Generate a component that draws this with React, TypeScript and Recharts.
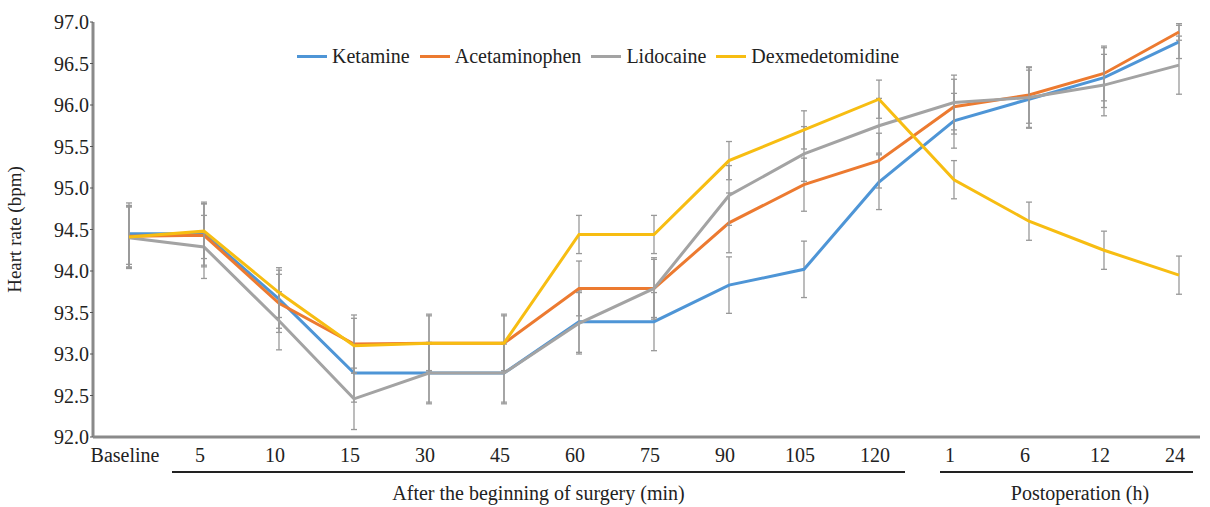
import { LineChart, Line, XAxis, YAxis, ErrorBar } from "recharts"

const categories = ["Baseline", "5", "10", "15", "30", "45", "60", "75", "90", "105", "120", "1", "6", "12", "24"]

const ketamine = [94.45, 94.45, 93.66, 92.77, 92.77, 92.77, 93.39, 93.39, 93.83, 94.02, 95.07, 95.81, 96.07, 96.33, 96.76]
const acetaminophen = [94.42, 94.43, 93.61, 93.12, 93.13, 93.13, 93.79, 93.79, 94.58, 95.04, 95.33, 95.98, 96.12, 96.38, 96.88]
const lidocaine = [94.4, 94.29, 93.4, 92.46, 92.77, 92.77, 93.37, 93.79, 94.91, 95.41, 95.75, 96.03, 96.09, 96.24, 96.48]
const dexmedetomidine = [94.41, 94.48, 93.74, 93.1, 93.13, 93.13, 94.44, 94.44, 95.33, 95.7, 96.07, 95.1, 94.6, 94.25, 93.95]

const ketamineErr = [0.37, 0.38, 0.35, 0.35, 0.35, 0.35, 0.37, 0.35, 0.34, 0.34, 0.33, 0.33, 0.35, 0.36, 0.2]
const acetaminophenErr = [0.37, 0.38, 0.35, 0.35, 0.35, 0.35, 0.33, 0.35, 0.36, 0.32, 0.33, 0.33, 0.34, 0.33, 0.1]
const lidocaineErr = [0.37, 0.38, 0.35, 0.37, 0.37, 0.37, 0.37, 0.37, 0.36, 0.33, 0.33, 0.33, 0.36, 0.37, 0.35]
const dexmedetomidineErr = [0.37, 0.33, 0.3, 0.33, 0.33, 0.33, 0.23, 0.23, 0.23, 0.23, 0.23, 0.23, 0.23, 0.23, 0.23]

const yTicks = [92, 92.5, 93, 93.5, 94, 94.5, 95, 95.5, 96, 96.5, 97]

const series = [
  { key: "ket", name: "Ketamine", color: "#4e95d6" },
  { key: "ace", name: "Acetaminophen", color: "#ec7a30" },
  { key: "lid", name: "Lidocaine", color: "#a3a3a3" },
  { key: "dex", name: "Dexmedetomidine", color: "#f7bd12" },
]

const data = categories.map((c, i) => ({
  name: c,
  ket: ketamine[i],
  ketErr: ketamineErr[i],
  ace: acetaminophen[i],
  aceErr: acetaminophenErr[i],
  lid: lidocaine[i],
  lidErr: lidocaineErr[i],
  dex: dexmedetomidine[i],
  dexErr: dexmedetomidineErr[i],
}))

const font = "Times New Roman, Liberation Serif, DejaVu Serif, serif"

export default function App() {
  return (
    <div style={{ position: "absolute", left: 0, top: 0, width: 1210, height: 507, background: "#fff", fontFamily: font }}>
      <LineChart width={1210} height={507} data={data} margin={{ top: 22, right: 10, left: 0, bottom: 40 }}>
        <XAxis
          dataKey="name"
          scale="point"
          padding={{ left: 36, right: 21 }}
          height={30}
          tickLine={false}
          tickMargin={5}
          axisLine={{ stroke: "#8a8a8a", strokeWidth: 3 }}
          tick={{ fill: "#222", fontSize: 20, fontFamily: font, dx: -4 }}
          interval={0}
        />
        <YAxis
          width={93}
          domain={[92, 97]}
          ticks={yTicks}
          tickFormatter={(v: number) => v.toFixed(1)}
          tickSize={3}
          tickMargin={1}
          axisLine={{ stroke: "#8a8a8a", strokeWidth: 3 }}
          tickLine={{ stroke: "#555" }}
          tick={{ fill: "#222", fontSize: 20, fontFamily: font }}
          label={{
            value: "Heart rate (bpm)",
            angle: -90,
            position: "insideLeft",
            offset: 14,
            style: { textAnchor: "middle", fill: "#222", fontSize: 19, fontFamily: font },
          }}
        />
        {series.map((s) => (
          <Line
            key={s.key}
            dataKey={s.key}
            name={s.name}
            stroke={s.color}
            strokeWidth={3}
            dot={false}
            isAnimationActive={false}
          >
            <ErrorBar dataKey={s.key + "Err"} width={3} stroke="#999" strokeWidth={1.3} direction="y" />
          </Line>
        ))}
      </LineChart>

      {/* legend */}
      <div style={{ position: "absolute", left: 297, top: 45, display: "flex", alignItems: "center", fontSize: 20, color: "#222" }}>
        {series.map((s) => (
          <div key={s.key} style={{ display: "flex", alignItems: "center", marginRight: 10 }}>
            <div style={{ width: 30, height: 3, background: s.color, marginRight: 5 }} />
            <span>{s.name}</span>
          </div>
        ))}
      </div>

      {/* group brackets under x axis */}
      <div style={{ position: "absolute", left: 172, top: 471, width: 733, height: 2, background: "#222" }} />
      <div style={{ position: "absolute", left: 940, top: 471, width: 253, height: 2, background: "#222" }} />
      <div style={{ position: "absolute", left: 172, top: 482, width: 733, textAlign: "center", fontSize: 20, color: "#222" }}>
        After the beginning of surgery (min)
      </div>
      <div style={{ position: "absolute", left: 940, top: 482, width: 280, textAlign: "center", fontSize: 20, color: "#222" }}>
        Postoperation (h)
      </div>
    </div>
  )
}
